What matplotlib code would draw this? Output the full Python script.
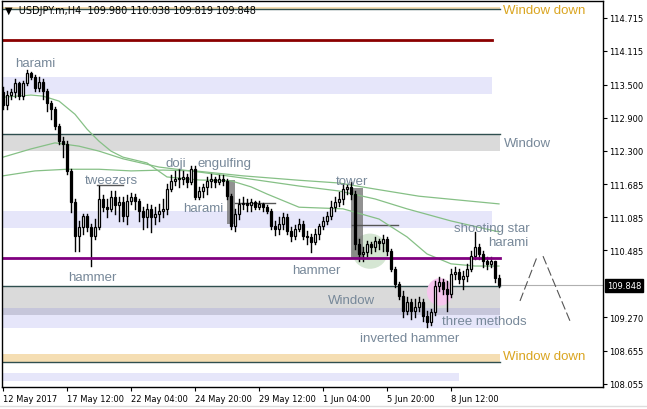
import matplotlib
matplotlib.use("Agg")
import matplotlib.pyplot as plt
from matplotlib.patches import Rectangle, Ellipse
import matplotlib.transforms as mtransforms

# USDJPY H4 candles (bar index = position from the left)
first_open = 113.36
closes = [113.13, 113.31, 113.36, 113.53, 113.29, 113.53, 113.71, 113.64, 113.44, 113.55,
          113.38, 113.16, 113.06, 112.75, 112.47, 112.42, 111.93, 111.36, 110.75, 110.91,
          111.11, 110.91, 110.75, 110.91, 111.42, 111.27, 111.24, 111.455, 111.31, 111.36,
          111.11, 111.38, 111.455, 111.38, 111.20, 111.09, 111.24, 111.09, 111.15, 111.20,
          111.24, 111.60, 111.75, 111.78, 111.79, 111.82, 111.73, 111.96, 111.455, 111.56,
          111.64, 111.75, 111.78, 111.73, 111.78, 111.75, 111.47, 110.93, 111.15, 111.33,
          111.35, 111.31, 111.36, 111.27, 111.33, 111.27, 111.20, 110.93, 110.87, 110.96,
          111.09, 110.84, 110.75, 110.87, 110.96, 110.75, 110.73, 110.64, 110.78, 110.93,
          111.02, 111.11, 111.27, 111.36, 111.42, 111.60, 111.64, 111.51, 110.60, 110.42,
          110.455, 110.60, 110.55, 110.655, 110.62, 110.69, 110.47, 110.15, 109.87, 109.655,
          109.38, 109.55, 109.38, 109.455, 109.55, 109.29, 109.18, 109.36, 109.84, 109.91,
          109.78, 109.69, 110.055, 110.09, 109.96, 110.02, 110.15, 110.38, 110.55, 110.42,
          110.29, 110.24, 110.29, 109.98, 109.848]
highs = [113.46, 113.38, 113.42, 113.60, 113.55, 113.56, 113.76, 113.73, 113.67, 113.64,
         113.60, 113.42, 113.20, 113.09, 112.78, 112.55, 112.47, 111.96, 111.42, 111.02,
         111.15, 111.15, 110.96, 111.055, 111.655, 111.49, 111.42, 111.56, 111.56, 111.455,
         111.455, 111.49, 111.53, 111.51, 111.42, 111.27, 111.33, 111.31, 111.27, 111.33,
         111.42, 111.69, 111.855, 111.93, 111.96, 111.93, 111.87, 112.02, 112.02, 111.64,
         111.69, 111.82, 111.87, 111.82, 111.855, 111.855, 111.78, 111.51, 111.24, 111.42,
         111.455, 111.42, 111.42, 111.38, 111.38, 111.35, 111.31, 111.24, 111.02, 111.09,
         111.16, 111.15, 110.91, 110.95, 111.055, 111.02, 110.84, 110.78, 110.87, 110.96,
         111.09, 111.18, 111.38, 111.455, 111.55, 111.69, 111.67, 111.73, 111.56, 110.69,
         110.55, 110.655, 110.64, 110.73, 110.69, 110.76, 110.73, 110.51, 110.18, 109.91,
         109.75, 109.64, 109.60, 109.60, 109.64, 109.60, 109.38, 109.42, 109.93, 110.00,
         109.96, 109.93, 110.15, 110.18, 110.15, 110.11, 110.24, 110.47, 110.82, 110.60,
         110.47, 110.36, 110.36, 110.29, 110.038]
lows = [113.06, 113.06, 113.24, 113.27, 113.24, 113.24, 113.49, 113.60, 113.38, 113.38,
        113.24, 113.02, 112.87, 112.69, 112.42, 112.18, 111.87, 111.18, 110.47, 110.47,
        110.78, 110.84, 110.20, 110.69, 110.87, 111.20, 111.09, 111.20, 111.15, 111.02,
        111.02, 110.96, 111.33, 111.24, 111.02, 110.87, 110.91, 110.82, 110.96, 111.02,
        111.09, 111.15, 111.56, 111.67, 111.64, 111.69, 111.64, 111.69, 111.42, 111.42,
        111.455, 111.51, 111.64, 111.64, 111.69, 111.67, 111.42, 110.87, 110.84, 111.055,
        111.24, 111.20, 111.20, 111.24, 111.24, 111.20, 111.16, 110.87, 110.76, 110.78,
        110.87, 110.78, 110.655, 110.69, 110.84, 110.69, 110.60, 110.455, 110.60, 110.69,
        110.87, 110.96, 111.055, 111.20, 111.29, 111.33, 111.51, 111.42, 110.51, 110.29,
        110.29, 110.38, 110.44, 110.47, 110.51, 110.47, 110.40, 110.11, 109.82, 109.60,
        109.27, 109.33, 109.24, 109.27, 109.38, 109.20, 109.09, 109.13, 109.31, 109.75,
        109.69, 109.38, 109.64, 109.96, 109.89, 109.78, 109.93, 110.11, 110.33, 110.33,
        110.18, 110.15, 110.18, 109.91, 109.819]
opens = [first_open] + closes[:-1]

# moving averages, read at a few bars
ma_fast_bars = [0, 7, 10, 14, 18, 21, 24, 27, 30, 36, 41, 49, 57, 62, 66, 74, 85, 94, 101, 106, 112, 118, 124]
ma_fast = [113.27, 113.31, 113.29, 113.20, 112.96, 112.69, 112.47, 112.29, 112.18, 112.075, 111.82, 111.765,
           111.75, 111.64, 111.51, 111.27, 111.24, 111.055, 110.73, 110.42, 110.24, 110.20, 110.20]
ma_mid_bars = [0, 7, 13, 19, 24, 30, 39, 49, 62, 74, 84, 93, 101, 112, 124]
ma_mid = [112.18, 112.33, 112.44, 112.38, 112.29, 112.15, 112.00, 111.91, 111.78, 111.655, 111.565,
          111.42, 111.24, 111.02, 110.82]
ma_slow_bars = [0, 8, 16, 24, 32, 40, 48, 60, 74, 84, 93, 104, 114, 124]
ma_slow = [111.84, 111.93, 111.96, 111.96, 111.93, 111.945, 111.93, 111.84, 111.76, 111.71, 111.60,
           111.47, 111.40, 111.33]

ytick_vals = [114.715, 114.115, 113.500, 112.900, 112.300, 111.685, 111.085, 110.485,
              109.270, 108.655, 108.055]
xtick_bars = [0, 16, 32, 48, 64, 80, 96, 112]
xtick_labels = ["12 May 2017", "17 May 12:00", "22 May 04:00", "24 May 20:00",
                "29 May 12:00", "1 Jun 04:00", "5 Jun 20:00", "8 Jun 12:00"]
last_price = 109.848

LBL = "#778899"
GOLD = "#DAA520"

fig = plt.figure(figsize=(6.47, 4.10), dpi=100)
ax = fig.add_axes([2 / 647, 22 / 410, 601 / 647, 386 / 410])
ax.set_xlim(-0.25, 150)
ax.set_ylim(108.0, 115.02)

# horizontal zones
def band(lo, hi, x1, color, z=0.5):
    ax.add_patch(Rectangle((-0.25, lo), x1 + 0.25, hi - lo, facecolor=color, edgecolor="none", zorder=z))

band(114.86, 114.91, 124.25, "#F5DEB3")
ax.plot([-0.25, 124.25], [114.87, 114.87], color="#2F4F4F", lw=1, zorder=0.6)
ax.plot([-0.25, 122.25], [114.31, 114.31], color="#8B0000", lw=2, zorder=0.6)
band(113.33, 113.64, 122.25, "#E6E6FA")
band(112.29, 112.60, 124.25, "#DADADA")
ax.plot([-0.25, 124.25], [112.60, 112.60], color="#2F4F4F", lw=1, zorder=0.6)
band(110.89, 111.20, 122.25, "#E6E6FA")
band(109.44, 109.84, 124.25, "#DADADA")
band(109.07, 109.44, 124.25, "#E6E6FA")
band(109.31, 109.44, 124.25, "#C6C6DA", z=0.55)
ax.plot([-0.25, 124.25], [109.84, 109.84], color="#2F4F4F", lw=1, zorder=0.6)
band(108.455, 108.60, 124.25, "#F5DEB3")
ax.plot([-0.25, 124.25], [108.455, 108.455], color="#2F4F4F", lw=1, zorder=0.6)
band(108.11, 108.255, 114.0, "#E6E6FA")
ax.plot([-0.25, 124.25], [110.35, 110.35], color="#800080", lw=2, zorder=2.5)
ax.plot([124, 150], [last_price, last_price], color="#B0B0B0", lw=0.8, zorder=0.6)

# pattern highlights
ax.add_patch(Ellipse((91.75, 110.47), 9, 0.64, facecolor="#D5E6D3", edgecolor="none", zorder=0.7))
ax.add_patch(Ellipse((109.25, 109.73), 6.5, 0.5, facecolor="#F7C6EE", edgecolor="none", zorder=0.7))
ax.add_patch(Rectangle((56.0, 110.96), 2.1, 0.805, facecolor="#6E6E6E", alpha=0.75, edgecolor="none", zorder=0.8))
ax.add_patch(Rectangle((87.0, 110.33), 2.9, 1.29, facecolor="#6E6E6E", alpha=0.75, edgecolor="none", zorder=0.8))
ax.plot([58, 68], [111.35, 111.35], color="#555555", lw=1, zorder=0.9)
ax.plot([87.25, 98.75], [110.945, 110.945], color="#555555", lw=1, zorder=0.9)
ax.plot([23.5, 30], [111.67, 111.67], color="#555555", lw=1, zorder=0.9)

# moving averages
for bx, vals in [(ma_slow_bars, ma_slow), (ma_mid_bars, ma_mid), (ma_fast_bars, ma_fast)]:
    ax.plot(bx, vals, color="#86C086", lw=0.9, zorder=1)

# candles
for i, (o, h, l, c) in enumerate(zip(opens, highs, lows, closes)):
    ax.plot([i, i], [l, h], color="black", lw=1.0, zorder=2)
    lo, hi = min(o, c), max(o, c)
    fc = "white" if c >= o else "black"
    ax.add_patch(Rectangle((i - 0.32, lo), 0.64, max(hi - lo, 0.012), facecolor=fc,
                           edgecolor="black", lw=0.9, zorder=3))

# projection
ax.plot([129.25, 133.5], [109.565, 110.365], color="#555555", lw=0.8, ls=(0, (8, 3)), zorder=1)
ax.plot([135, 141.75], [110.38, 109.20], color="#555555", lw=0.8, ls=(0, (8, 3)), zorder=1)

# labels
tf = dict(fontsize=9.5, family="Liberation Sans", va="center", zorder=4)
notes = [("harami", 3, 113.89), ("tweezers", 20.5, 111.765), ("doji", 40.5, 112.07),
         ("engulfing", 48.75, 112.07), ("harami", 45, 111.255), ("tower", 83.25, 111.745),
         ("hammer", 16.25, 110.0), ("hammer", 72.25, 110.13), ("shooting star", 112.75, 110.89),
         ("harami", 121.25, 110.64), ("Window", 81.25, 109.58), ("three methods", 109.75, 109.20),
         ("inverted hammer", 89.25, 108.89)]
for s, x, y in notes:
    ax.text(x, y, s, color=LBL, **tf)
ax.text(125, 114.86, "Window down", color=GOLD, **tf)
ax.text(125.25, 112.44, "Window", color=LBL, **tf)
ax.text(125, 108.56, "Window down", color=GOLD, **tf)

ax.text(0.5, 114.85, "\u25bc  USDJPY.m,H4  109.980 110.038 109.819 109.848", fontsize=7,
        family="DejaVu Sans", color="black", va="center", zorder=5)

# axes
ax.yaxis.tick_right()
ax.set_yticks(ytick_vals)
ax.set_yticklabels([f"{v:.3f}" for v in ytick_vals])
ax.set_xticks(xtick_bars)
ax.set_xticklabels(xtick_labels, ha="left")
ax.tick_params(axis="both", direction="out", length=3, width=0.8, labelsize=6, colors="black")
ax.tick_params(axis="y", pad=1.5)
ax.tick_params(axis="x", pad=2)
for sp in ax.spines.values():
    sp.set_linewidth(1)
trans = mtransforms.blended_transform_factory(ax.transAxes, ax.transData)
ax.text(1.006, last_price, f"{last_price:.3f}", transform=trans, fontsize=6, color="white",
        va="center", ha="left", bbox=dict(boxstyle="square,pad=0.2", fc="black", ec="black"))

fig.add_artist(plt.Line2D([0, 1], [3 / 410, 3 / 410], color="#DDDDDD", lw=1))

fig.savefig("out.png", dpi=100)
